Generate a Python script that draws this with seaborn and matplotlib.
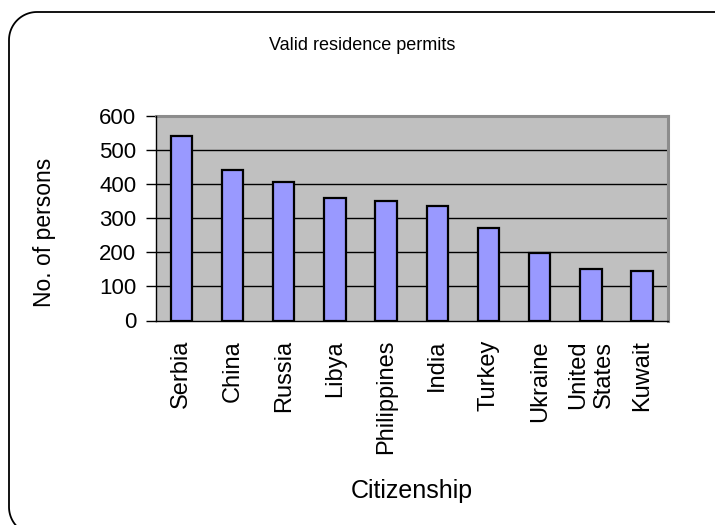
import matplotlib
matplotlib.use("Agg")
import matplotlib.pyplot as plt
from matplotlib.patches import PathPatch
from matplotlib.path import Path
import numpy as np
import seaborn as sns
import pandas as pd

# Valid residence permits by citizenship
countries = ["Serbia", "China", "Russia", "Libya", "Philippines", "India",
             "Turkey", "Ukraine", "United States", "Kuwait"]
persons = [541, 441, 405, 358, 352, 335, 270, 199, 152, 146]
tick_labels = ["Serbia", "China", "Russia", "Libya", "Philippines", "India",
               "Turkey", "Ukraine", "United\nStates", "Kuwait"]
y_ticks = [0, 100, 200, 300, 400, 500, 600]

sns.set_style("white")
plt.rcParams["font.family"] = ["Liberation Sans", "DejaVu Sans"]
plt.rcParams["text.color"] = "black"
plt.rcParams["axes.labelcolor"] = "black"
plt.rcParams["xtick.color"] = "black"
plt.rcParams["ytick.color"] = "black"

df = pd.DataFrame({"Citizenship": countries, "Persons": persons})

W, H = 715, 525
fig = plt.figure(figsize=(W / 100, H / 100), dpi=100)
fig.patch.set_facecolor("white")


def rounded_frame(x0, y0, x1, y1, r, n=24):
    """Closed rounded-rectangle outline in pixel units (origin bottom-left)."""
    pts = []
    corners = [(x1 - r, y1 - r, 0), (x0 + r, y1 - r, 90),
               (x0 + r, y0 + r, 180), (x1 - r, y0 + r, 270)]
    for cx, cy, a0 in corners:
        ang = np.radians(np.linspace(a0, a0 + 90, n))
        pts.extend(zip(cx + r * np.cos(ang), cy + r * np.sin(ang)))
    pts.append(pts[0])
    return Path(np.array(pts) / 100.0)


frame = PathPatch(rounded_frame(9, H - 535, 745, H - 12, 28),
                  transform=fig.dpi_scale_trans, facecolor="none",
                  edgecolor="black", linewidth=1.3)
fig.add_artist(frame)

ax = fig.add_axes([155.7 / W, 1 - 320.5 / H, (667.7 - 155.7) / W, (320.5 - 116) / H])
ax.set_facecolor("#C0C0C0")

sns.barplot(data=df, x="Citizenship", y="Persons", ax=ax, color="#9999FF",
            saturation=1, width=0.42, edgecolor="black", linewidth=1.6, zorder=3)

ax.set_xlim(-0.5, len(countries) - 0.5)
ax.set_ylim(0, 600)
ax.set_yticks(y_ticks)
ax.set_yticklabels([str(v) for v in y_ticks], fontsize=16)

# category labels centred, ticks on category boundaries
ax.set_xticks(range(len(countries)))
ax.set_xticklabels(tick_labels, rotation=90, fontsize=17)
ax.tick_params(axis="x", which="major", length=0, pad=14)
ax.set_xticks([i - 0.5 for i in range(len(countries) + 1)], minor=True)
ax.tick_params(axis="x", which="minor", length=8, width=1, direction="out", color="black")
ax.tick_params(axis="y", length=7, width=1, direction="out", color="black", pad=7, left=True)

for v in y_ticks[1:-1]:
    ax.axhline(v, color="black", linewidth=1, zorder=1)

for side in ["top", "right"]:
    ax.spines[side].set_color("#8C8C8C")
    ax.spines[side].set_linewidth(2.2)
for side in ["left", "bottom"]:
    ax.spines[side].set_color("black")
    ax.spines[side].set_linewidth(1)
    ax.spines[side].set_zorder(4)

ax.set_xlabel("Citizenship", fontsize=18, labelpad=18)
ax.set_ylabel("No. of persons", fontsize=16.5)
ax.yaxis.set_label_coords((56 - 155.7) / 512, (320.5 - 232) / 204.5)

fig.text(362 / W, 1 - 45 / H, "Valid residence permits", fontsize=13,
         ha="center", va="center")

fig.savefig("out.png", dpi=100)
